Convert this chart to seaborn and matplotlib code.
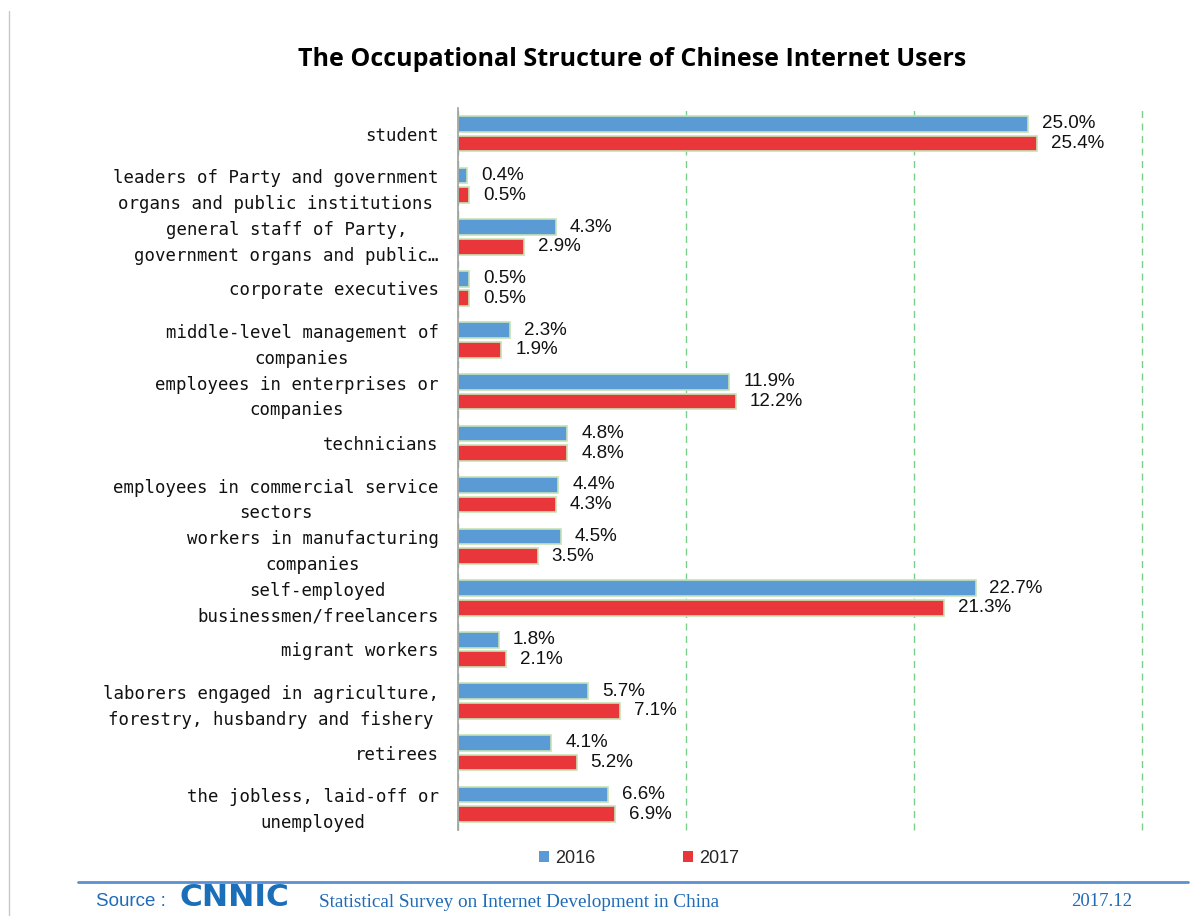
import matplotlib
matplotlib.use("Agg")
import matplotlib.pyplot as plt
import seaborn as sns
import pandas as pd
import numpy as np
from matplotlib.patches import Patch
from matplotlib.lines import Line2D

categories = [
    "student",
    "leaders of Party and government\norgans and public institutions",
    "general staff of Party,\ngovernment organs and public\u2026",
    "corporate executives",
    "middle-level management of\ncompanies",
    "employees in enterprises or\ncompanies",
    "technicians",
    "employees in commercial service\nsectors",
    "workers in manufacturing\ncompanies",
    "self-employed\nbusinessmen/freelancers",
    "migrant workers",
    "laborers engaged in agriculture,\nforestry, husbandry and fishery",
    "retirees",
    "the jobless, laid-off or\nunemployed",
]
values_2016 = [25.0, 0.4, 4.3, 0.5, 2.3, 11.9, 4.8, 4.4, 4.5, 22.7, 1.8, 5.7, 4.1, 6.6]
values_2017 = [25.4, 0.5, 2.9, 0.5, 1.9, 12.2, 4.8, 4.3, 3.5, 21.3, 2.1, 7.1, 5.2, 6.9]
years = ["2016", "2017"]
xticks = [0, 10, 20, 30]

df = pd.DataFrame({
    "category": categories * 2,
    "value": values_2016 + values_2017,
    "year": [years[0]] * len(categories) + [years[1]] * len(categories),
})

sns.set_style("white")
plt.rcParams["font.family"] = ["Liberation Sans", "DejaVu Sans"]

blue = "#5b9bd5"
red = "#e8363a"
fig = plt.figure(figsize=(11.98, 9.16), dpi=100)
ax = fig.add_axes([0.3823, 0.0939, 0.571, 0.7882])

sns.barplot(data=df, y="category", x="value", hue="year", hue_order=years,
            order=categories, palette=[blue, red], orient="h", saturation=1,
            width=0.76, gap=0.2, ax=ax, edgecolor="#c5e3b5", linewidth=1.2,
            legend=False)

for cont in ax.containers:
    ax.bar_label(cont, labels=[f"{v:.1f}%" for v in cont.datavalues],
                 padding=10, fontsize=13.5, color="#111111")

ax.set_xlim(0, 30)
ax.set_ylim(len(categories) - 0.5, -0.5)
ax.set_xticks(xticks)
ax.set_xticklabels([])
ax.tick_params(axis="x", length=0)
ax.grid(axis="x", color="#7ccf8a", linestyle=(0, (5, 4)), linewidth=1)
for gl in ax.get_xgridlines():
    gl.set_clip_on(False)
ax.set_axisbelow(True)
for s in ["top", "right", "bottom"]:
    ax.spines[s].set_visible(False)
ax.spines["left"].set_color("#a0a0a0")
ax.spines["left"].set_linewidth(1.2)
ax.set_xlabel("")
ax.set_ylabel("")

ax.tick_params(axis="y", which="major", length=0, pad=14)
ax.set_yticks(np.arange(len(categories) + 1) - 0.5, minor=True)
ax.tick_params(axis="y", which="minor", length=4, color="#a0a0a0", direction="out")
for lbl in ax.get_yticklabels():
    lbl.set_fontfamily("DejaVu Sans Mono")
    lbl.set_fontsize(12.5)
    lbl.set_multialignment("center")
    lbl.set_linespacing(1.55)
    lbl.set_color("#111111")

fig.text(0.528, 0.935, "The Occupational Structure of Chinese Internet Users",
         ha="center", va="center", fontsize=18, fontweight="bold",
         family=["Open Sans", "DejaVu Sans"], color="#000000")

handles = [Patch(facecolor=blue, edgecolor="none"), Patch(facecolor=red, edgecolor="none")]
fig.legend(handles, years, loc="center", bbox_to_anchor=(0.5335, 0.063), ncol=2,
           frameon=False, handlelength=0.55, handleheight=0.55, handletextpad=0.35,
           columnspacing=4.85, fontsize=13)

fig.add_artist(Line2D([0.065, 0.992], [0.037, 0.037], color="#5b8fd0", linewidth=2))
fig.add_artist(Line2D([0.0075, 0.0075], [0.0, 0.988], color="#c8c8c8", linewidth=1))

footer_blue = "#1f6bb8"
fig.text(0.080, 0.0155, "Source :", ha="left", va="center", fontsize=13.5,
         color=footer_blue, family=["Liberation Sans", "DejaVu Sans"])
fig.text(0.150, 0.0205, "CNNIC", ha="left", va="center", fontsize=22.5,
         fontweight="heavy", color="#1a6fb8", family=["DejaVu Sans"])
fig.text(0.266, 0.0150, "Statistical Survey on Internet Development in China",
         ha="left", va="center", fontsize=13.8, color=footer_blue,
         family=["Liberation Serif", "DejaVu Serif"])
fig.text(0.894, 0.0155, "2017.12", ha="left", va="center", fontsize=13.5,
         color=footer_blue, family=["Liberation Serif", "DejaVu Serif"])

fig.savefig("out.png", dpi=100)
